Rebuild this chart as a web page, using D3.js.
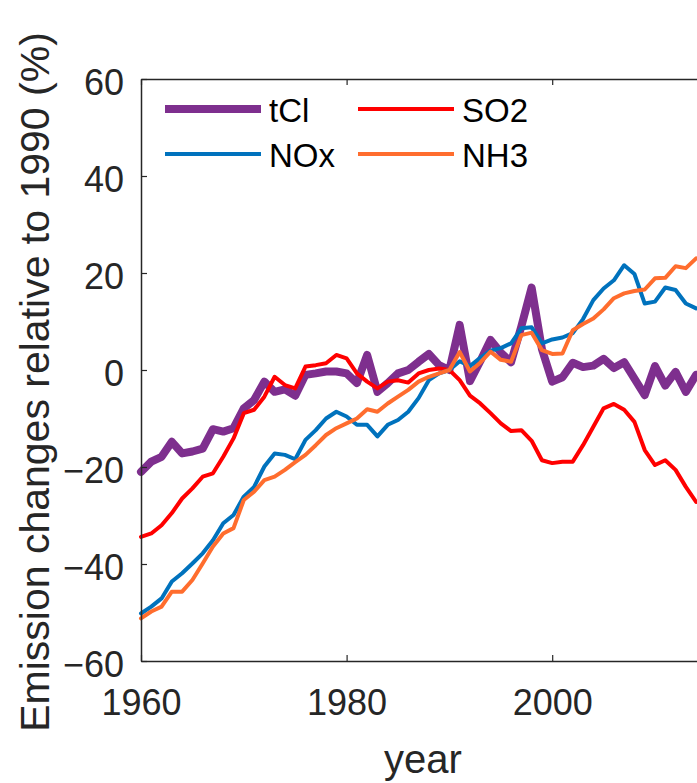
<!DOCTYPE html>
<html>
<head>
<meta charset="utf-8">
<script src="https://cdn.jsdelivr.net/npm/d3@7"></script>
<style>
    body { margin: 0; background: #fff; }
    svg { display: block; font-family: "Liberation Sans", Arial, Helvetica, sans-serif; }
</style>
</head>
<body>
<svg id="chart" width="697" height="783"></svg>
<script>
// data (emission change relative to 1990, %)
const years = d3.range(1960, 2015);

const tCl = [
    -21, -18.9, -17.9, -14.8, -17.2, -16.8, -16.2, -12.2, -12.7, -12.0,
    -7.9, -6.2, -2.4, -4.5, -4.0, -5.3, -1.0, -0.7, -0.3, -0.3,
    -0.7, -2.7, 3.1, -4.5, -2.7, -0.7, 0, 1.7, 3.3, 1.0,
    0, 9.3, -2.3, 1.8, 6.2, 3.6, 1.6, 9.0, 17.0, 4.3,
    -2.4, -1.5, 1.5, 0.6, 0.9, 2.3, 0.4, 1.6, -1.8, -5.2,
    0.8, -3.2, -0.4, -4.5, -1.0
];

const so2 = [
    -34.4, -33.7, -32.0, -29.5, -26.5, -24.4, -22.0, -21.3, -17.9, -14.1,
    -8.9, -8.2, -5.5, -1.4, -3.1, -3.8, 0.7, 1.0, 1.4, 3.1,
    2.4, -0.7, -2.4, -3.8, -2.4, -2.1, -2.6, -0.7, 0, 0.3,
    0, -2.1, -5.3, -6.9, -8.9, -11.0, -12.6, -12.4, -14.6, -18.6,
    -19.2, -18.9, -18.9, -15.5, -11.7, -7.9, -7.0, -8.2, -10.7, -16.5,
    -19.6, -18.6, -20.6, -24.1, -27.2
];

const nox = [
    -50.2, -48.8, -47.1, -43.6, -41.9, -39.9, -37.8, -35.1, -31.6, -29.9,
    -26.1, -24.1, -19.9, -17.2, -17.5, -18.4, -14.4, -12.4, -10.0, -8.6,
    -9.6, -11.3, -11.3, -13.7, -11.3, -10.3, -8.6, -5.8, -2.1, -0.7,
    0, 1.8, 0.8, 2.5, 4.0, 4.5, 5.5, 8.6, 8.8, 5.5,
    6.3, 6.7, 7.6, 10.5, 14.4, 16.8, 18.5, 21.6, 19.8, 13.7,
    14.1, 17.0, 16.5, 13.7, 12.7
];

const nh3 = [
    -51.2, -49.8, -48.8, -45.7, -45.7, -43.3, -39.9, -36.4, -33.7, -32.6,
    -26.8, -25.1, -22.7, -22.0, -20.6, -19.0, -17.5, -15.5, -13.4, -12.0,
    -11.0, -10.0, -8.1, -8.6, -6.9, -5.5, -4.1, -2.4, -1.4, -0.7,
    0, 3.7, -0.3, 1.5, 3.8, 2.1, 1.7, 7.2, 7.7, 4.1,
    3.3, 3.4, 8.2, 9.5, 10.6, 12.5, 14.8, 15.8, 16.3, 16.6,
    18.9, 19.0, 21.4, 21.0, 23.0
];

const xTicks = [1960, 1980, 2000, 2020];
const yTicks = [-60, -40, -20, 0, 20, 40, 60];

// series styling (drawn in this order, legend reads row-wise)
const series = [
    { name: 'tCl', values: tCl, color: '#7E2F8E', width: 8 },
    { name: 'SO2', values: so2, color: '#FF0000', width: 4 },
    { name: 'NOx', values: nox, color: '#0072BD', width: 4 },
    { name: 'NH3', values: nh3, color: '#FF6D2E', width: 4 }
];

const AXIS_COLOR = '#262626';
const MARGIN = { LEFT: 141, TOP: 79, BOTTOM: 661 };

const svg = d3.select('#chart');

const x = d3.scaleLinear()
    .domain([1960, 2015])
    .range([MARGIN.LEFT, MARGIN.LEFT + 55 * 10.28]);

const y = d3.scaleLinear()
    .domain([-60, 60])
    .range([MARGIN.BOTTOM, MARGIN.TOP]);

// lines
const line = d3.line()
    .x((d, i) => x(years[i]))
    .y(d => y(d));

const lines = svg.append('g')
    .attr('class', 'lines');

lines.selectAll('path')
    .data(series)
    .enter()
    .append('path')
    .attr('d', d => line(d.values))
    .attr('fill', 'none')
    .attr('stroke', d => d.color)
    .attr('stroke-width', d => d.width)
    .attr('stroke-linejoin', 'round')
    .attr('stroke-linecap', 'round');

// axes (MATLAB style: ticks inward, box on top)
const shownX = xTicks.filter(t => t <= 2015);

const xAxis = svg.append('g')
    .attr('transform', `translate(0,${MARGIN.BOTTOM})`)
    .call(d3.axisBottom(x).tickValues(shownX).tickFormat(d3.format('d')).tickSizeInner(-6).tickSizeOuter(0));

const yAxis = svg.append('g')
    .attr('transform', `translate(${MARGIN.LEFT},0)`)
    .call(d3.axisLeft(y).tickValues(yTicks).tickSizeInner(-6).tickSizeOuter(0).tickPadding(17));

const topAxis = svg.append('g')
    .attr('transform', `translate(0,${MARGIN.TOP})`)
    .call(d3.axisTop(x).tickValues(shownX).tickFormat('').tickSizeInner(-6).tickSizeOuter(0));

[xAxis, yAxis, topAxis].forEach(g => {
    g.select('.domain').attr('stroke', AXIS_COLOR).attr('stroke-width', 1.5);
    g.selectAll('.tick line').attr('stroke', AXIS_COLOR).attr('stroke-width', 1.2);
    g.selectAll('.tick text')
        .attr('fill', AXIS_COLOR)
        .attr('font-size', 36)
        .attr('font-family', '"Liberation Sans", Arial, Helvetica, sans-serif');
});

xAxis.selectAll('.tick text')
    .attr('y', 54)
    .attr('dy', 0);

yAxis.selectAll('.tick text')
    .attr('dy', '0.42em');

// axis labels
svg.append('text')
    .attr('x', 423)
    .attr('y', 773)
    .attr('text-anchor', 'middle')
    .attr('font-size', 40)
    .attr('fill', AXIS_COLOR)
    .text('year');

svg.append('text')
    .attr('transform', 'translate(49,382) rotate(-90)')
    .attr('text-anchor', 'middle')
    .attr('font-size', 41)
    .attr('fill', AXIS_COLOR)
    .text('Emission changes relative to 1990 (%)');

// legend, two columns
const legend = svg.append('g')
    .attr('class', 'legend');

const legendItems = legend.selectAll('g')
    .data(series)
    .enter()
    .append('g')
    .attr('transform', (d, i) => `translate(${i % 2 === 0 ? 165 : 358},${i < 2 ? 109 : 154})`);

legendItems.append('line')
    .attr('x1', 0)
    .attr('x2', 96)
    .attr('y1', 0)
    .attr('y2', 0)
    .attr('stroke', d => d.color)
    .attr('stroke-width', d => d.width);

legendItems.append('text')
    .attr('x', 104)
    .attr('y', 13)
    .attr('font-size', 33)
    .attr('fill', '#000')
    .text(d => d.name);
</script>
</body>
</html>
